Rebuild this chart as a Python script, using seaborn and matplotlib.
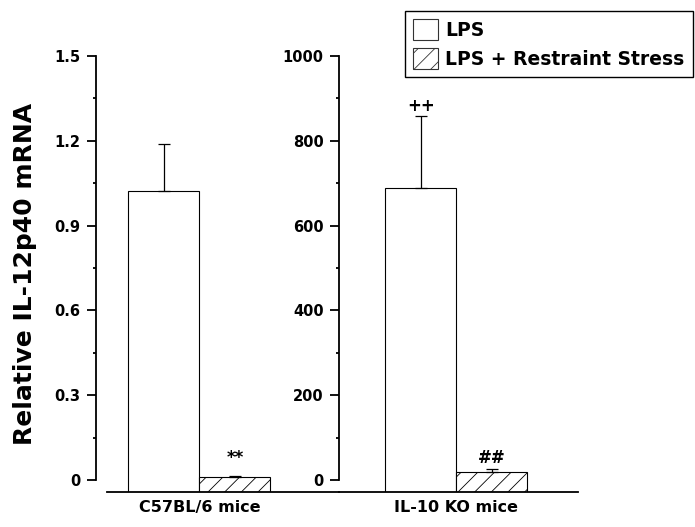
import numpy as np
import pandas as pd
import seaborn as sns
import matplotlib.pyplot as plt
from matplotlib.patches import Patch
from matplotlib.ticker import MultipleLocator

# ---- data ----
groups = ["C57BL/6 mice", "IL-10 KO mice"]
treatments = ["LPS", "LPS + Restraint Stress"]
c57_mean = [1.023, 0.012]
c57_sem = [0.164, 0.0035]
ko_mean = [689, 19.6]
ko_sem = [169, 6.0]
y1_ticks = [0, 0.3, 0.6, 0.9, 1.2, 1.5]
y1_ticklabels = ["0", "0.3", "0.6", "0.9", "1.2", "1.5"]
y2_ticks = [0, 200, 400, 600, 800, 1000]
y2_ticklabels = ["0", "200", "400", "600", "800", "1000"]
marks_c57 = ["", "**"]
marks_ko = ["++", "##"]
ylabel = "Relative IL-12p40 mRNA"

sns.set_style("ticks")
plt.rcParams["font.family"] = ["DejaVu Sans"]
plt.rcParams["font.weight"] = "bold"
plt.rcParams["hatch.linewidth"] = 0.6
plt.rcParams["hatch.color"] = "#444444"
for k in ["text.color", "axes.labelcolor", "xtick.color", "ytick.color", "axes.edgecolor"]:
    plt.rcParams[k] = "black"

W, H = 695, 527
fig = plt.figure(figsize=(W / 100, H / 100), dpi=100)
fig.patch.set_facecolor("white")
base_px, top_px = 491.7, 56
bottom = 1 - base_px / H
height = (base_px - top_px) / H
ax1 = fig.add_axes([96 / W, bottom, 243 / W, height])
ax2 = fig.add_axes([339 / W, bottom, 239 / W, height])

mark_offsets = {"**": 6, "++": 1, "##": 1.5}


def panel(ax, group, means, sems, ymax, ticks, ticklabels, marks, xlim, x0):
    df = pd.DataFrame({"group": [group] * 2, "treatment": treatments, "value": means})
    sns.barplot(data=df, x="group", y="value", hue="treatment", hue_order=treatments,
                palette=["white", "white"], edgecolor="black", linewidth=0.8,
                errorbar=None, width=0.8, ax=ax, legend=False, saturation=1)
    lo = -ymax * (base_px - 480) / (480 - top_px)
    ax.set_ylim(lo, ymax)
    ax.set_xlim(*xlim)
    for cont, m, s, mk, hatch in zip(ax.containers, means, sems, marks, ["", "//"]):
        for bar in cont:
            h = bar.get_height()
            bar.set_y(lo)
            bar.set_height(h - lo)
            bar.set_hatch(hatch)
            xc = bar.get_x() + bar.get_width() / 2
            ax.errorbar([xc], [m], yerr=[[0], [s]], fmt="none", ecolor="black",
                        elinewidth=0.9, capsize=4.3, capthick=0.9, zorder=3)
            if mk:
                ax.annotate(mk, (xc, m + s), xytext=(0, mark_offsets.get(mk, 3)),
                            textcoords="offset points", ha="center", va="bottom",
                            fontsize=12, fontweight="bold")
    ax.set_yticks(ticks, ticklabels)
    ax.yaxis.set_minor_locator(MultipleLocator((ticks[1] - ticks[0]) / 2))
    ax.set_xlabel("")
    ax.set_ylabel("")
    for sp in ["top", "right"]:
        ax.spines[sp].set_visible(False)
    ax.spines["left"].set_bounds(0, ymax)
    ax.spines["bottom"].set_bounds(x0, xlim[1])
    for sp in ["left", "bottom"]:
        ax.spines[sp].set_linewidth(1.3)
        ax.spines[sp].set_color("black")
    ax.tick_params(axis="y", which="major", length=6.5, width=1.3, direction="out",
                   labelsize=10.5, pad=4.5, colors="black")
    ax.tick_params(axis="y", which="minor", length=2.5, width=1.3, direction="out")
    ax.tick_params(axis="x", length=0, labelsize=11.5, pad=6, colors="black")
    ax.patch.set_alpha(0)


panel(ax1, groups[0], c57_mean, c57_sem, 1.5, y1_ticks, y1_ticklabels, marks_c57,
      (-0.583, 0.786), -0.521)
panel(ax2, groups[1], ko_mean, ko_sem, 1000, y2_ticks, y2_ticklabels, marks_ko,
      (-0.661, 0.686), -0.661)

ax1.set_ylabel(ylabel, fontsize=18, fontweight="bold", color="black")
ax1.yaxis.set_label_coords((37.5 - 96) / 243, 0.5)

handles = [Patch(facecolor="white", edgecolor="#333333", linewidth=0.8, label=treatments[0]),
           Patch(facecolor="white", edgecolor="#333333", linewidth=0.8, hatch="//",
                 label=treatments[1])]
leg = fig.legend(handles=handles, loc="upper right",
                 bbox_to_anchor=(693 / W, 1 - 10.7 / H), frameon=True, fancybox=False,
                 edgecolor="black", framealpha=1, prop=dict(size=13.5, weight="bold"),
                 handlelength=1.3, handleheight=1.3, handletextpad=0.4,
                 labelspacing=0.45, borderpad=0.45, borderaxespad=0)
leg.get_frame().set_linewidth(1.0)
for t in leg.get_texts():
    t.set_color("black")

fig.savefig("out.png", dpi=100)
